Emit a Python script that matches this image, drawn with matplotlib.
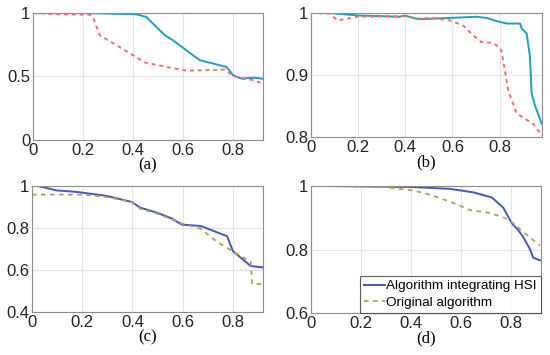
import matplotlib.pyplot as plt
import numpy as np

plt.rcParams['font.family'] = ['Liberation Sans', 'DejaVu Sans']

# (a)
a_blue_x = [0, 0.20, 0.413, 0.453, 0.527, 0.56, 0.667, 0.773, 0.785, 0.80, 0.833, 0.887, 0.92]
a_blue_y = [1.0, 1.0, 0.99, 0.969, 0.825, 0.785, 0.628, 0.576, 0.55, 0.51, 0.484, 0.49, 0.482]
a_red_x = [0, 0.10, 0.227, 0.24, 0.267, 0.367, 0.447, 0.567, 0.62, 0.767, 0.80, 0.833, 0.887, 0.92]
a_red_y = [1.0, 0.99, 0.987, 0.969, 0.825, 0.707, 0.61, 0.563, 0.545, 0.555, 0.505, 0.484, 0.47, 0.44]

# (b)
b_blue_x = [0, 0.078, 0.2, 0.376, 0.397, 0.454, 0.589, 0.70, 0.745, 0.787, 0.83, 0.887, 0.894,
            0.915, 0.929, 0.936, 0.95, 0.979]
b_blue_y = [1.0, 1.0, 0.996, 0.994, 0.996, 0.99, 0.992, 0.994, 0.992, 0.987, 0.983, 0.983, 0.975,
            0.967, 0.929, 0.87, 0.851, 0.821]
b_red_x = [0, 0.078, 0.113, 0.2, 0.397, 0.454, 0.518, 0.589, 0.645, 0.688, 0.723, 0.766, 0.801,
           0.809, 0.837, 0.872, 0.943, 0.979]
b_red_y = [1.0, 0.999, 0.988, 0.994, 0.995, 0.991, 0.992, 0.988, 0.98, 0.964, 0.953, 0.952, 0.945,
           0.937, 0.875, 0.838, 0.821, 0.803]

# (c)
c_blue_x = [0, 0.024, 0.097, 0.177, 0.297, 0.397, 0.431, 0.497, 0.557, 0.597, 0.671, 0.777, 0.80,
            0.871, 0.921]
c_blue_y = [1.0, 1.0, 0.979, 0.972, 0.953, 0.924, 0.897, 0.873, 0.845, 0.816, 0.81, 0.761, 0.69,
            0.619, 0.612]
c_orig_x = [0, 0.197, 0.297, 0.397, 0.43, 0.497, 0.597, 0.671, 0.737, 0.791, 0.871, 0.877, 0.921]
c_orig_y = [0.959, 0.959, 0.948, 0.924, 0.892, 0.869, 0.821, 0.797, 0.734, 0.695, 0.639, 0.533, 0.533]

# (d)
d_blue_x = [0.063, 0.396, 0.556, 0.649, 0.723, 0.769, 0.803, 0.829, 0.849, 0.876, 0.889, 0.916]
d_blue_y = [1.0, 0.997, 0.991, 0.98, 0.964, 0.932, 0.883, 0.861, 0.839, 0.801, 0.774, 0.766]
d_orig_x = [0.063, 0.289, 0.409, 0.489, 0.583, 0.636, 0.716, 0.776, 0.809, 0.849, 0.916]
d_orig_y = [1.0, 0.997, 0.986, 0.97, 0.942, 0.924, 0.915, 0.899, 0.883, 0.855, 0.812]

labels = ['Algorithm integrating HSI', 'Original algorithm']

fig = plt.figure(figsize=(5.5, 3.55), dpi=100)
W, H = 550, 355

def add_ax(l, t, r, b):
    return fig.add_axes([l / W, 1 - b / H, (r - l) / W, (b - t) / H])

axa = add_ax(33, 13, 263, 140)
axb = add_ax(311, 13, 542, 137)
axc = add_ax(32, 186, 263, 312)
axd = add_ax(311, 186, 541, 313)

teal = '#1AA0C0'
salmon = '#F26F62'
blue = '#4157C4'
olive = '#AFA24A'

axa.plot(a_blue_x, a_blue_y, color=teal, lw=1.4)
axa.plot(a_red_x, a_red_y, color=salmon, lw=1.4, ls=(0, (2, 2)))
axa.set_xlim(0, 0.92)
axa.set_ylim(0, 1)
axa.set_yticks([0, 0.5, 1])
axa.set_yticklabels(['0', '0.5', '1'])

axb.plot(b_blue_x, b_blue_y, color=teal, lw=1.4)
axb.plot(b_red_x, b_red_y, color=salmon, lw=1.4, ls=(0, (2, 2)))
axb.set_xlim(0, 0.98)
axb.set_ylim(0.8, 1)
axb.set_yticks([0.8, 0.9, 1])
axb.set_yticklabels(['0.8', '0.9', '1'])

axc.plot(c_blue_x, c_blue_y, color=blue, lw=1.4)
axc.plot(c_orig_x, c_orig_y, color=olive, lw=1.3, ls=(0, (2.5, 2.5)))
axc.set_xlim(0, 0.92)
axc.set_ylim(0.4, 1)
axc.set_yticks([0.4, 0.6, 0.8, 1])
axc.set_yticklabels(['0.4', '0.6', '0.8', '1'])

axd.plot(d_blue_x, d_blue_y, color=blue, lw=1.4, label=labels[0])
axd.plot(d_orig_x, d_orig_y, color=olive, lw=1.3, ls=(0, (2.5, 2.5)), label=labels[1])
axd.set_xlim(0, 0.92)
axd.set_ylim(0.6, 1)
axd.set_yticks([0.6, 0.8, 1])
axd.set_yticklabels(['0.6', '0.8', '1'])
leg = axd.legend(loc='lower right', fontsize=9.7, frameon=True, fancybox=False,
                 edgecolor='#333333', borderpad=0.3, handlelength=1.6, handletextpad=0.1,
                 labelspacing=0.3, borderaxespad=0.0)
leg.get_frame().set_linewidth(0.8)

for ax, cap in zip([axa, axb, axc, axd], ['(a)', '(b)', '(c)', '(d)']):
    ax.set_xticks([0, 0.2, 0.4, 0.6, 0.8])
    ax.set_xticklabels(['0', '0.2', '0.4', '0.6', '0.8'])
    ax.grid(True, color='#E4E4E4', lw=0.8)
    ax.set_axisbelow(True)
    ax.tick_params(labelsize=12, length=0, pad=2, colors='#222222')
    for s in ax.spines.values():
        s.set_color('#8C8C8C')
        s.set_linewidth(0.8)
    ax.set_xlabel(cap, fontsize=12, family='Liberation Serif', labelpad=0)

fig.savefig('out.png', dpi=100)
